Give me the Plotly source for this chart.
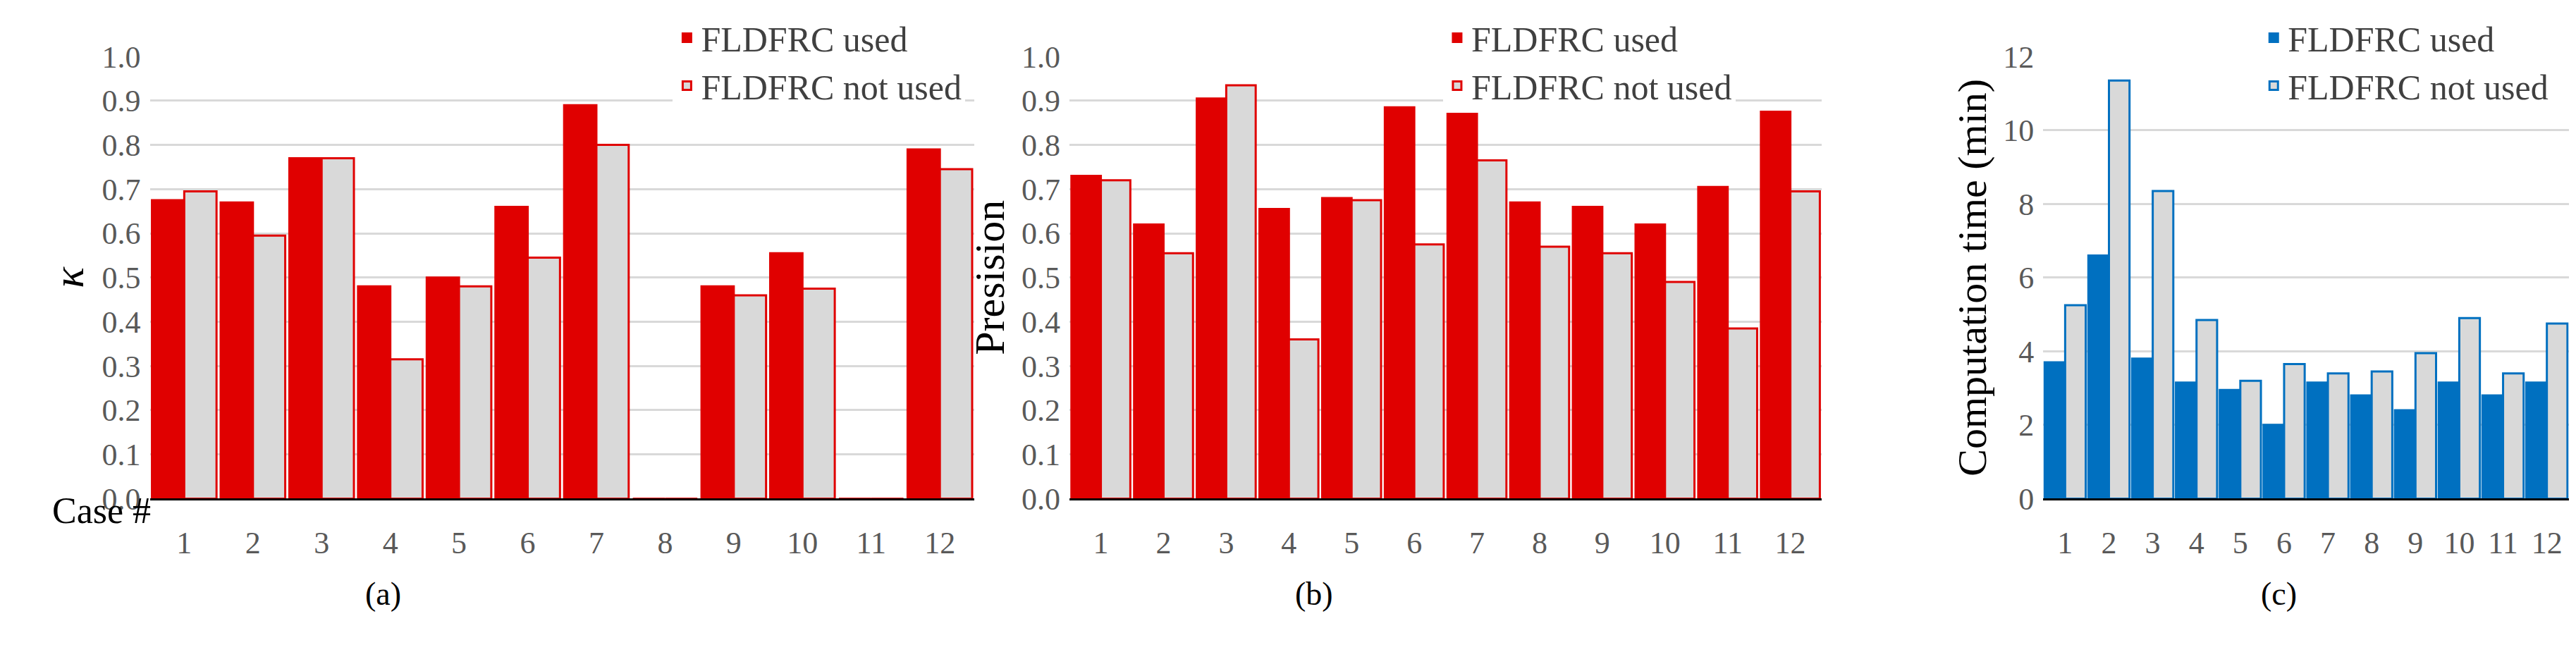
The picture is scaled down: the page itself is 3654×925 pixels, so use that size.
import plotly.graph_objects as go

cases = [str(i) for i in range(1, 13)]
kappa_used = [0.675, 0.67, 0.77, 0.48, 0.50, 0.66, 0.89, 0, 0.48, 0.555, 0, 0.79]
kappa_not = [0.695, 0.595, 0.77, 0.315, 0.48, 0.545, 0.80, 0, 0.46, 0.475, 0, 0.745]
prec_used = [0.73, 0.62, 0.905, 0.655, 0.68, 0.885, 0.92, 0.67, 0.66, 0.62, 0.705, 0.875]
prec_not = [0.72, 0.555, 0.935, 0.36, 0.675, 0.575, 0.765, 0.57, 0.555, 0.49, 0.385, 0.695]
time_used = [3.7, 6.6, 3.8, 3.15, 2.95, 2.0, 3.15, 2.8, 2.4, 3.15, 2.8, 3.15]
time_not = [5.25, 11.35, 8.35, 4.85, 3.2, 3.65, 3.4, 3.45, 3.95, 4.9, 3.4, 4.75]

RED = "#e00000"
BLUE = "#0070c0"
GRAY = "#d9d9d9"
FONT = "Liberation Serif"

fig = go.Figure()
panels = [
    (kappa_used, kappa_not, RED, "x", "y", "legend"),
    (prec_used, prec_not, RED, "x2", "y2", "legend2"),
    (time_used, time_not, BLUE, "x3", "y3", "legend3"),
]
for used, notu, col, xa, ya, lg in panels:
    fig.add_trace(go.Bar(x=cases, y=used, name="FLDFRC used", marker=dict(color=col, line=dict(color=col, width=3)),
                         xaxis=xa, yaxis=ya, legend=lg))
    fig.add_trace(go.Bar(x=cases, y=notu, name="FLDFRC not used", marker=dict(color=GRAY, line=dict(color=col, width=3)),
                         xaxis=xa, yaxis=ya, legend=lg))

tickfont = dict(family=FONT, size=44, color="#595959")
doms = [(0.056, 0.376), (0.413, 0.705), (0.791, 0.995)]
ydom = [0.229, 0.945]
for i, (d0, d1) in enumerate(doms):
    s = "" if i == 0 else str(i + 1)
    fig.layout["xaxis" + s] = dict(domain=[d0, d1], anchor="y" + s, tickfont=tickfont, showgrid=False,
                                   showline=True, linecolor="black", linewidth=3, ticks="", ticklabelstandoff=22)
    if i < 2:
        yax = dict(range=[0, 1.0], dtick=0.1, tickformat=".1f")
    else:
        yax = dict(range=[0, 12], dtick=2)
    yax.update(domain=ydom, anchor="x" + s, tickfont=tickfont, showgrid=True, gridcolor="#d9d9d9", gridwidth=3,
               zeroline=False, showline=False, ticks="", ticklabelstandoff=12)
    fig.layout["yaxis" + s] = yax

fig.update_layout(
    yaxis_title=dict(text="<i>κ</i>", font=dict(family=FONT, size=62, color="black"), standoff=5),
    yaxis2_title=dict(text="Presision", font=dict(family=FONT, size=60, color="black"), standoff=5),
    yaxis3_title=dict(text="Computation time (min)", font=dict(family=FONT, size=58, color="black"), standoff=5),
)

legfont = dict(family=FONT, size=50, color="#404040")
fig.update_layout(
    legend=dict(x=0.259, y=1.02, xanchor="left", yanchor="top", font=legfont, bgcolor="white", tracegroupgap=0),
    legend2=dict(x=0.558, y=1.02, xanchor="left", yanchor="top", font=legfont, bgcolor="white"),
    legend3=dict(x=0.875, y=1.02, xanchor="left", yanchor="top", font=legfont, bgcolor="white"),
)

for txt, x in [("(a)", 0.139), ("(b)", 0.508), ("(c)", 0.89)]:
    fig.add_annotation(text=txt, x=x, y=0.043, xref="paper", yref="paper", showarrow=False,
                       font=dict(family=FONT, size=46, color="black"))
fig.add_annotation(text="Case #", x=0.057, y=0.175, xref="paper", yref="paper", xanchor="right", showarrow=False,
                   font=dict(family=FONT, size=52, color="black"))

fig.update_layout(
    width=3654, height=925, barmode="group", bargap=0.06, bargroupgap=0,
    plot_bgcolor="white", paper_bgcolor="white",
    margin=dict(l=0, r=0, t=0, b=0), font=dict(family=FONT),
)
fig.write_html("out.html")
